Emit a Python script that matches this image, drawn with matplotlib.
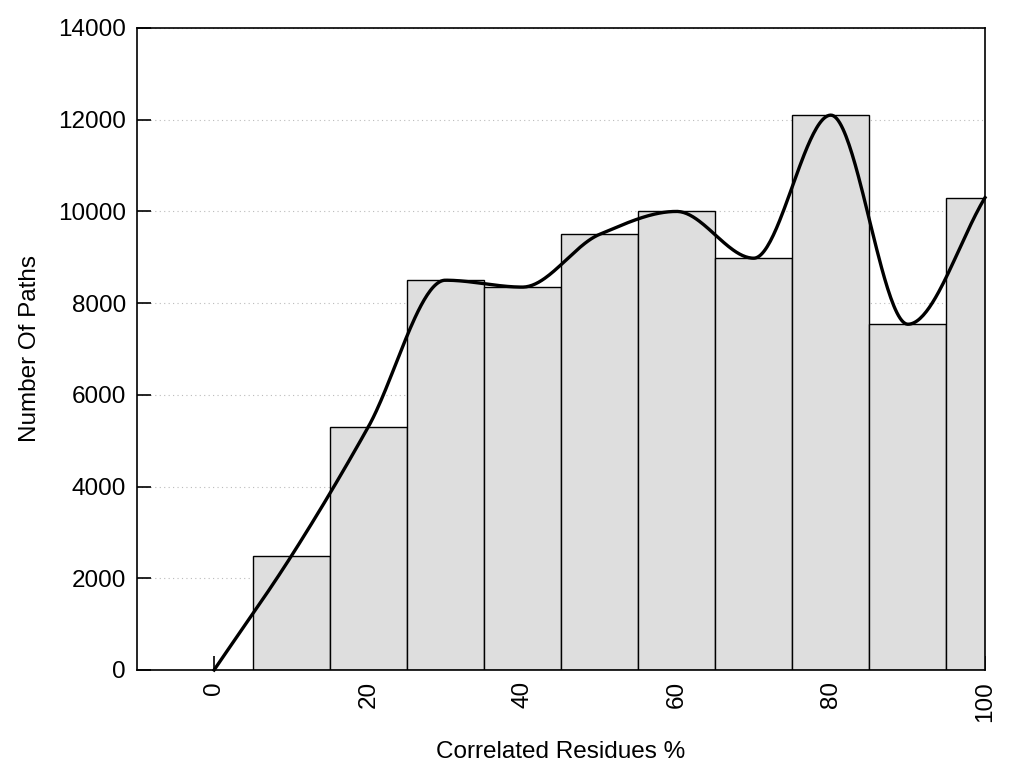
import matplotlib.pyplot as plt
import numpy as np

plt.rcParams['font.family'] = ['Liberation Sans', 'DejaVu Sans']

binCenters = [10, 20, 30, 40, 50, 60, 70, 80, 90, 100]
pathCounts = [2480, 5300, 8500, 8350, 9500, 10000, 8980, 12100, 7540, 10300]

# curve goes through origin plus every bar top
curveX = [0] + binCenters
curveY = [0] + pathCounts


def monotoneSpline(x, y, xs):
    """Fritsch-Carlson monotone cubic (like gnuplot mcsplines)"""
    x = np.asarray(x, float)
    y = np.asarray(y, float)
    n = len(x)
    h = np.diff(x)
    delta = np.diff(y) / h
    m = np.zeros(n)
    m[0] = delta[0]
    m[-1] = delta[-1]
    for i in range(1, n - 1):
        if delta[i - 1] * delta[i] <= 0:
            m[i] = 0.0
        else:
            w1 = 2 * h[i] + h[i - 1]
            w2 = h[i] + 2 * h[i - 1]
            m[i] = (w1 + w2) / (w1 / delta[i - 1] + w2 / delta[i])
    ys = np.empty_like(xs)
    for k, xv in enumerate(xs):
        i = int(np.clip(np.searchsorted(x, xv, side='right') - 1, 0, n - 2))
        t = (xv - x[i]) / h[i]
        h00 = 2 * t ** 3 - 3 * t ** 2 + 1
        h10 = t ** 3 - 2 * t ** 2 + t
        h01 = -2 * t ** 3 + 3 * t ** 2
        h11 = t ** 3 - t ** 2
        ys[k] = (h00 * y[i] + h10 * h[i] * m[i] + h01 * y[i + 1]
                 + h11 * h[i] * m[i + 1])
    return ys


fig = plt.figure(figsize=(10.24, 7.68), dpi=100)
ax = fig.add_axes([137 / 1024, 1 - 670 / 768, 848 / 1024, 642 / 768])

ax.bar(binCenters, pathCounts, width=10, color='#dedede',
       edgecolor='black', linewidth=1.0, zorder=2)

xs = np.linspace(0, 100, 500)
ax.plot(xs, monotoneSpline(curveX, curveY, xs), color='black',
        linewidth=2.4, zorder=3, clip_on=False)

ax.set_xlim(-10, 100)
ax.set_ylim(0, 14000)
ax.set_xticks(range(0, 101, 20))
ax.set_yticks(range(0, 14001, 2000))
ax.tick_params(axis='both', direction='in', length=10, width=1.2,
               labelsize=17.5, top=False, right=False, pad=8)
ax.tick_params(axis='x', labelrotation=90)
ax.yaxis.grid(True, linestyle=(0, (1, 3)), color='#bbbbbb', linewidth=0.8,
              zorder=0)
ax.set_axisbelow(True)
for s in ax.spines.values():
    s.set_linewidth(1.2)

ax.set_xlabel("Correlated Residues %", fontsize=17.5, labelpad=14)
ax.set_ylabel("Number Of Paths", fontsize=17.5, labelpad=12)

fig.savefig("out.png")
plt.close(fig)
